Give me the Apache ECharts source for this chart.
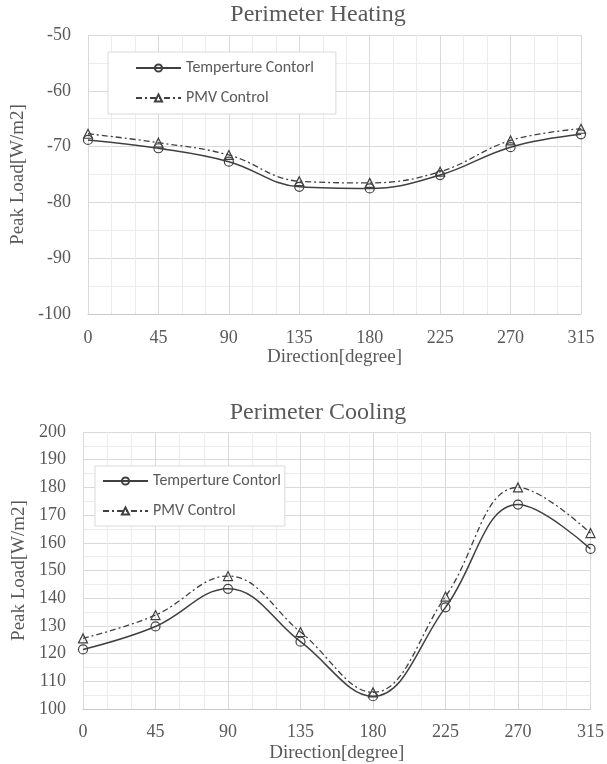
<!DOCTYPE html>
<html>
<head>
<meta charset="utf-8">
<script src="https://cdn.jsdelivr.net/npm/echarts@6/dist/echarts.min.js"></script>
<style>
  html, body { margin: 0; padding: 0; background: #ffffff; }
  #chart { width: 607px; height: 764px; }
</style>
</head>
<body>
<div id="chart"></div>
<script>
// ---- data ----
const directions = [0, 45, 90, 135, 180, 225, 270, 315];
const seriesNames = ['Temperture Contorl', 'PMV Control'];
const chartTitles = ['Perimeter Heating', 'Perimeter Cooling'];
const xAxisName = 'Direction[degree]';
const yAxisName = 'Peak Load[W/m2]';
const heatingTemp = [-68.8, -70.3, -72.7, -77.2, -77.5, -75.1, -70.1, -67.8];
const heatingPMV  = [-67.7, -69.3, -71.5, -76.2, -76.5, -74.5, -68.9, -66.8];
const coolingTemp = [121.5, 129.8, 143.4, 124.3, 104.6, 136.7, 173.8, 157.8];
const coolingPMV  = [125.5, 133.9, 148.0, 127.8, 106.0, 140.6, 180.0, 163.5];
const heatingRange = [-100, -50];
const coolingRange = [100, 200];

// ---- styles ----
const textColor = '#595959';
const serif = '"Liberation Serif", "Times New Roman", serif';
const sans = 'Carlito, Lato, "Open Sans", sans-serif';
const lineColor = '#404040';

function pairs(ys) { return directions.map((d, i) => [d, ys[i]]); }

function xAxisCfg(gridIndex, margin, nameGap) {
  return {
    type: 'value', gridIndex, min: 0, max: 315, interval: 45,
    name: xAxisName, nameLocation: 'middle', nameGap,
    nameTextStyle: { fontFamily: serif, fontSize: 19, color: textColor },
    axisLine: { show: true, lineStyle: { color: '#c9c9c9', width: 1 } },
    axisTick: { show: false },
    axisLabel: { fontFamily: serif, fontSize: 18, color: textColor, margin },
    splitLine: { show: true, lineStyle: { color: '#d9d9d9', width: 1 } },
    minorTick: { show: false, splitNumber: 3 },
    minorSplitLine: { show: true, lineStyle: { color: '#ececec', width: 1 } }
  };
}
function yAxisCfg(gridIndex, range, nameGap) {
  return {
    type: 'value', gridIndex, min: range[0], max: range[1], interval: 10,
    name: yAxisName, nameLocation: 'middle', nameGap, nameRotate: 90,
    nameTextStyle: { fontFamily: serif, fontSize: 19, color: textColor },
    axisLine: { show: false },
    axisTick: { show: false },
    axisLabel: { fontFamily: serif, fontSize: 18, color: textColor, margin: 17 },
    splitLine: { show: true, lineStyle: { color: '#d9d9d9', width: 1 } },
    minorTick: { show: false, splitNumber: 2 },
    minorSplitLine: { show: true, lineStyle: { color: '#ececec', width: 1 } }
  };
}
function tempSeries(xi, ys) {
  return {
    name: seriesNames[0], type: 'line', xAxisIndex: xi, yAxisIndex: xi,
    data: pairs(ys), smooth: 0.4,
    symbol: 'circle', symbolSize: 9,
    lineStyle: { color: lineColor, width: 1.5, type: 'solid' },
    itemStyle: { color: 'rgba(255,255,255,0)', borderColor: lineColor, borderWidth: 1.2 },
    emphasis: { disabled: true }, z: 3
  };
}
function pmvSeries(xi, ys) {
  return {
    name: seriesNames[1], type: 'line', xAxisIndex: xi, yAxisIndex: xi,
    data: pairs(ys), smooth: 0.4,
    symbol: 'triangle', symbolSize: 9,
    lineStyle: { color: lineColor, width: 1.3, type: [6, 3, 2, 3] },
    itemStyle: { color: 'rgba(255,255,255,0)', borderColor: lineColor, borderWidth: 1.2 },
    emphasis: { disabled: true }, z: 3
  };
}
function legendCfg(left, top, padding) {
  return {
    show: true, orient: 'vertical', left, top, padding,
    data: seriesNames,
    itemWidth: 45, itemHeight: 9, itemGap: 14,
    backgroundColor: '#ffffff', borderColor: '#d9d9d9', borderWidth: 1,
    textStyle: { fontFamily: sans, fontSize: 16, color: textColor, lineHeight: 15 },
    selectedMode: false
  };
}

const chart = echarts.init(document.getElementById('chart'), null, { renderer: 'canvas' });
chart.setOption({
  animation: false,
  backgroundColor: '#ffffff',
  graphic: [
    { type: 'text', x: 318, y: 15, style: { text: chartTitles[0], font: '24px ' + serif, fill: textColor, textAlign: 'center', textVerticalAlign: 'middle' } },
    { type: 'text', x: 318, y: 413, style: { text: chartTitles[1], font: '24px ' + serif, fill: textColor, textAlign: 'center', textVerticalAlign: 'middle' } }
  ],
  grid: [
    { left: 88, right: 26, top: 35, height: 279 },
    { left: 83, right: 13, top: 432, height: 278 }
  ],
  xAxis: [xAxisCfg(0, 15, 34), xAxisCfg(1, 14, 35)],
  yAxis: [yAxisCfg(0, heatingRange, 57), yAxisCfg(1, coolingRange, 51)],
  legend: [
    legendCfg(108, 52, [8, 22, 8, 27]),
    legendCfg(95, 466, [7, 4, 7, 7])
  ],
  series: [
    tempSeries(0, heatingTemp), pmvSeries(0, heatingPMV),
    tempSeries(1, coolingTemp), pmvSeries(1, coolingPMV)
  ]
});
</script>
</body>
</html>
